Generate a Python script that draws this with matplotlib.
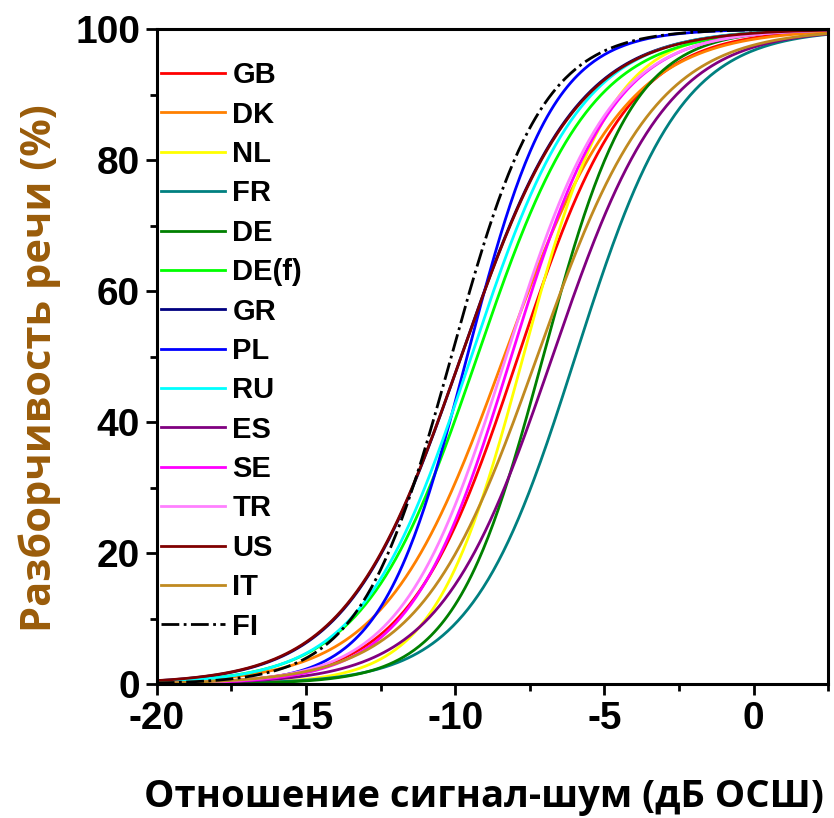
import matplotlib
matplotlib.use("Agg")
import matplotlib.pyplot as plt
import numpy as np
from matplotlib.ticker import MultipleLocator

plt.rcParams['axes.unicode_minus'] = False

# языки, SRT (дБ, 50 % точка) и крутизна в 50 % точке (доля/дБ)
langs  = ['GB', 'DK', 'NL', 'FR', 'DE', 'DE(f)', 'GR', 'PL', 'RU', 'ES', 'SE', 'TR', 'US', 'IT', 'FI']
srt    = [-7.89, -8.36, -7.72, -5.97, -7.05, -9.26, -9.80, -9.60, -9.46, -6.74, -8.12, -8.29, -9.80, -7.25, -10.13]
slope  = [0.136, 0.124, 0.169, 0.142, 0.168, 0.132, 0.130, 0.174, 0.136, 0.132, 0.147, 0.143, 0.129, 0.127, 0.164]
colors = ['#FF0000', '#FF8000', '#FFFF00', '#008080', '#008000', '#00FF00', '#000080', '#0000FF',
          '#00FFFF', '#800080', '#FF00FF', '#FF80FF', '#800000', '#C08A20', '#000000']

snr = np.linspace(-20, 2.5, 400)

fig = plt.figure(figsize=(8.34, 8.18), dpi=100)
ax = fig.add_axes([0.188, 0.1638, 0.805, 0.8007])

for name, l50, s, c in zip(langs, srt, slope, colors):
    # психометрическая функция (логистическая)
    p = 100.0 / (1.0 + np.exp(4 * s * (l50 - snr)))
    ls = '-.' if name == 'FI' else '-'
    ax.plot(snr, p, color=c, lw=2.0, ls=ls, label=name)

ax.set_xlim(-20, 2.5)
ax.set_ylim(0, 100)
ax.xaxis.set_major_locator(MultipleLocator(5))
ax.xaxis.set_minor_locator(MultipleLocator(2.5))
ax.yaxis.set_major_locator(MultipleLocator(20))
ax.yaxis.set_minor_locator(MultipleLocator(10))
ax.tick_params(which='major', direction='out', length=8, width=2, labelsize=28, pad=4)
ax.tick_params(which='minor', direction='out', length=5, width=2)
for lab in ax.get_xticklabels() + ax.get_yticklabels():
    lab.set_family('Liberation Sans')
    lab.set_fontweight('bold')
for sp in ax.spines.values():
    sp.set_linewidth(2.2)

ax.set_xlabel('Отношение сигнал-шум (дБ ОСШ)', family='Open Sans', fontweight='bold',
              fontsize=27.5, labelpad=30)
ax.xaxis.label.set_x(0.487)
ax.set_ylabel('Разборчивость речи (%)', family='Open Sans', fontweight='bold',
              fontsize=30, color='#9A5C0A', labelpad=10)
ax.yaxis.label.set_y(0.482)

ax.legend(loc='upper left', frameon=False, prop={'family': 'Liberation Sans', 'weight': 'bold', 'size': 21},
          handlelength=2.2, handletextpad=0.25, labelspacing=0.39, borderaxespad=0.0, borderpad=0.14,
          bbox_to_anchor=(0.0, 0.957))

fig.savefig('out.png', dpi=100)
